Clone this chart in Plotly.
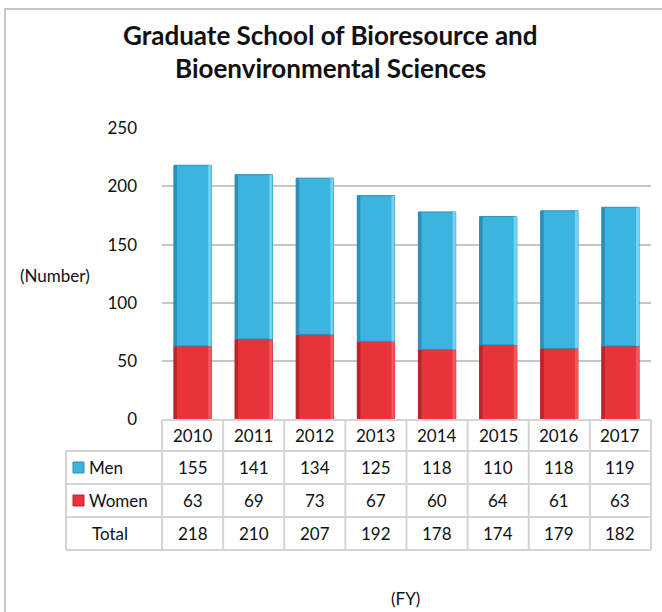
import plotly.graph_objects as go

# Fiscal years and enrolment counts
years = ["2010", "2011", "2012", "2013", "2014", "2015", "2016", "2017"]
men = [155, 141, 134, 125, 118, 110, 118, 119]
women = [63, 69, 73, 67, 60, 64, 61, 63]
totals = [m + w for m, w in zip(men, women)]

W, H = 662, 612
FONT = "Lato"
GRID = "#c6c6c6"
TABLE_LINE = "#d4d4d4"
BLUE, BLUE_DARK, BLUE_LIGHT = "#3bb5e0", "#2b8fb6", "#72d3f2"
RED, RED_DARK, RED_LIGHT = "#e8333a", "#b8262c", "#f2585e"
BAR_W = 0.61
EDGE_W = 0.05


def px(x):
    return x / W


def py(y):
    return 1 - y / H


# plot area in pixels
X0, X1 = 162, 651
Y_ZERO, Y_TOP = 419.5, 128

fig = go.Figure()


def beveled(values, base, body, dark, light, name):
    # bar body plus shaded left edge and highlighted right edge
    fig.add_trace(go.Bar(x=years, y=values, base=base, name=name, width=BAR_W,
                         marker=dict(color=body, line=dict(color=dark, width=1))))
    fig.add_trace(go.Bar(x=years, y=values, base=base, width=EDGE_W, offset=-BAR_W / 2,
                         marker=dict(color=dark, line=dict(width=0)), hoverinfo="skip"))
    fig.add_trace(go.Bar(x=years, y=values, base=base, width=EDGE_W, offset=BAR_W / 2 - EDGE_W,
                         marker=dict(color=light, line=dict(width=0)), hoverinfo="skip"))


beveled(women, [0] * len(women), RED, RED_DARK, RED_LIGHT, "Women")
beveled(men, women, BLUE, BLUE_DARK, BLUE_LIGHT, "Men")

shapes = []
annotations = []

# outer chart frame
shapes.append(dict(type="rect", xref="paper", yref="paper",
                   x0=px(5), x1=px(W + 20), y0=py(H + 20), y1=py(9),
                   line=dict(color="#c8c8c8", width=2), fillcolor="rgba(0,0,0,0)"))

# data table grid
rows = [420, 451, 484, 517, 550]
ncol = len(years)
colw = (X1 - X0) / ncol
cols = [X0 + colw * i for i in range(ncol + 1)]
LEFT = 66
for i, yy in enumerate(rows):
    xs = X0 if i == 0 else LEFT
    shapes.append(dict(type="line", xref="paper", yref="paper",
                       x0=px(xs), x1=px(X1), y0=py(yy), y1=py(yy),
                       line=dict(color=TABLE_LINE, width=2)))
shapes.append(dict(type="line", xref="paper", yref="paper",
                   x0=px(LEFT), x1=px(LEFT), y0=py(rows[1]), y1=py(rows[-1]),
                   line=dict(color=TABLE_LINE, width=2)))
for cx in cols:
    shapes.append(dict(type="line", xref="paper", yref="paper",
                       x0=px(cx), x1=px(cx), y0=py(rows[0]), y1=py(rows[-1]),
                       line=dict(color=TABLE_LINE, width=2)))

# legend keys inside the table
for (r0, r1), fill, edge in [((rows[1], rows[2]), BLUE, BLUE_DARK), ((rows[2], rows[3]), RED, RED_DARK)]:
    cy = (r0 + r1) / 2
    shapes.append(dict(type="rect", xref="paper", yref="paper",
                       x0=px(73), x1=px(84), y0=py(cy + 5.5), y1=py(cy - 5.5),
                       fillcolor=fill, line=dict(color=edge, width=1)))

tfont = dict(family=FONT, size=17, color="#111111")
row_c = [(rows[i] + rows[i + 1]) / 2 for i in range(4)]
for j, yr in enumerate(years):
    cx = (cols[j] + cols[j + 1]) / 2
    for r, val in zip(row_c, [yr, men[j], women[j], totals[j]]):
        annotations.append(dict(text=str(val), x=px(cx), y=py(r), xref="paper", yref="paper",
                                showarrow=False, font=tfont, xanchor="center", yanchor="middle"))
for r, lab, x, anchor in [(row_c[1], "Men", 87, "left"), (row_c[2], "Women", 87, "left"),
                          (row_c[3], "Total", 110, "center")]:
    annotations.append(dict(text=lab, x=px(x), y=py(r), xref="paper", yref="paper",
                            showarrow=False, font=tfont, xanchor=anchor, yanchor="middle"))

# title and axis captions
title_font = dict(family=FONT, size=26, color="#111111")
for line, yy in [("Graduate School of Bioresource and", 35), ("Bioenvironmental Sciences", 68)]:
    annotations.append(dict(text="<b>" + line + "</b>", x=px(330), y=py(yy), xref="paper", yref="paper",
                            showarrow=False, font=title_font, xanchor="center", yanchor="middle"))
annotations.append(dict(text="(Number)", x=px(55), y=py(275), xref="paper", yref="paper",
                        showarrow=False, font=tfont, xanchor="center", yanchor="middle"))
annotations.append(dict(text="(FY)", x=px(405), y=py(598), xref="paper", yref="paper",
                        showarrow=False, font=tfont, xanchor="center", yanchor="middle"))

fig.update_layout(
    width=W, height=H,
    margin=dict(l=0, r=0, t=0, b=0, pad=0),
    paper_bgcolor="white", plot_bgcolor="white",
    barmode="overlay",
    showlegend=False,
    shapes=shapes, annotations=annotations,
    xaxis=dict(domain=[px(X0), px(X1)], showticklabels=False, showgrid=False, automargin=False,
               zeroline=False, showline=False, range=[-0.5, ncol - 0.5]),
    yaxis=dict(domain=[py(Y_ZERO), py(Y_TOP)], range=[0, 250], dtick=50, automargin=False,
               showgrid=True, gridcolor=GRID, gridwidth=2, zeroline=False, showline=False,
               tickfont=dict(family=FONT, size=17, color="#111111"),
               ticklabelstandoff=24),
)

fig.write_html("out.html")
